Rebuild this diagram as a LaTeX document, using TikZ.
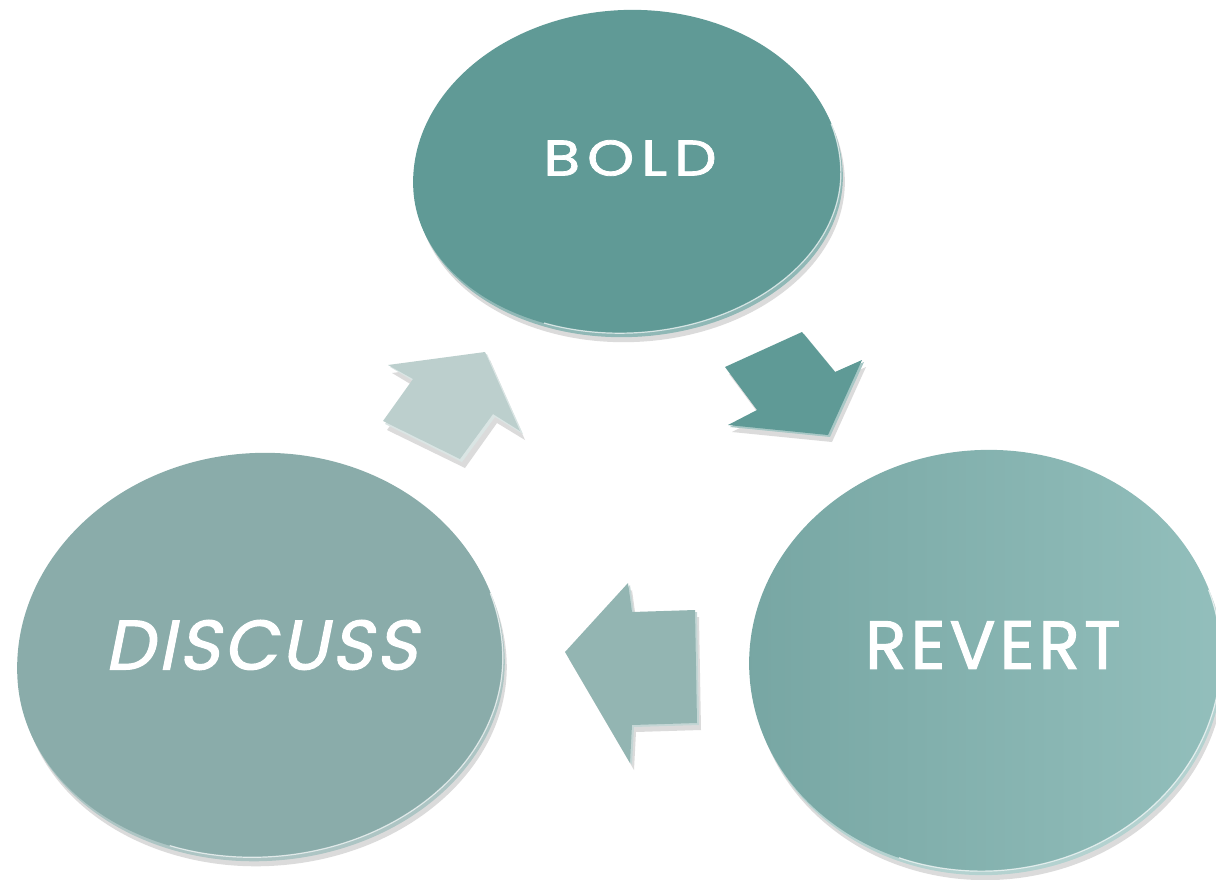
\documentclass[tikz,border=0pt]{standalone}
\usepackage{fontspec}
\setmainfont[FakeBold = 1.6]{Poppins}
\newfontfamily\wordfont[LetterSpace = 6, FakeBold = 1.6]{Poppins}
\newfontfamily\widefont[FakeStretch = 1.2, LetterSpace = 14, FakeBold = 1.6]{Poppins}
\newfontfamily\slantfont[FakeSlant = 0.2, LetterSpace = 5, FakeBold = 1.6]{Poppins}
\definecolor{boldface}{HTML}{609A96}
\definecolor{discface}{HTML}{8AACAA}
\definecolor{revertleft}{HTML}{77A6A3}
\definecolor{revertright}{HTML}{93BFBC}
\definecolor{upface}{HTML}{BCCFCD}
\definecolor{downface}{HTML}{5F9A96}
\definecolor{leftface}{HTML}{93B5B2}
\begin{document}
\begin{tikzpicture}[x = 1pt, y = -1pt,
    word/.style = {text = white, inner sep = 0pt},
    dropshade/.style = {black, opacity = .14},
    bevel/.style = {fill = #1!55!white}]
    \useasboundingbox (0,0) rectangle (1216,880);
    \foreach \cx/\cw/\rx/\ryt/\ryb/\rot/\lc/\rc in {
      627/178/214/168/155/3/boldface/boldface,
      260/664/243/211/193/4/discface/discface,
      985/660/236/210/211/4/revertleft/revertright} {
      \fill [dropshade, shift = {(\cx+4,\cw+9)}, rotate = \rot]
      (\rx pt,0pt) arc [start angle = 0, end angle = 180, x radius = \rx pt, y radius = \ryt pt]
      arc [start angle = 180, end angle = 360, x radius = \rx pt, y radius = \ryb pt] -- cycle;
      \fill [\rc!70!white, shift = {(\cx+2,\cw+4)}, rotate = \rot]
      (\rx pt,0pt) arc [start angle = 0, end angle = 180, x radius = \rx pt, y radius = \ryt pt]
      arc [start angle = 180, end angle = 360, x radius = \rx pt, y radius = \ryb pt] -- cycle;
      \shade [left color = \lc, right color = \rc,
      shift = {(\cx,\cw)}, rotate = \rot]
      (\rx pt,0pt) arc [start angle = 0, end angle = 180, x radius = \rx pt, y radius = \ryt pt]
      arc [start angle = 180, end angle = 360, x radius = \rx pt, y radius = \ryb pt] -- cycle;
      \draw [white, opacity = .7, line width = 1.2pt,
      shift = {(\cx,\cw)}, rotate = \rot]
      (0,0) ++(-115:\rx pt and \ryb pt)
      arc [start angle = -115, end angle = 0, x radius = \rx pt, y radius = \ryb pt]
      arc [start angle = 0, end angle = 15, x radius = \rx pt, y radius = \ryt pt];
    }
    \node [word, font = \widefont\fontsize{50}{60}\selectfont] (bold) at (630,158) {BOLD};
    \node [word, font = \slantfont\fontsize{70}{80}\selectfont] (discuss) at (261,645) {DISCUSS};
    \node [word, font = \wordfont\fontsize{68}{80}\selectfont] (revert) at (993,645) {REVERT};
    \fill [dropshade] (490,360) -- (525,440) -- (497,423) -- (465,468) -- (387,430)
    -- (417,388) -- (392,373) -- cycle;
    \fill [bevel = upface] (487,354) -- (523,434) -- (495,417) -- (462,462) -- (385,424)
    -- (415,382) -- (390,367) -- cycle;
    \fill [upface] (485,352) -- (520,431) -- (493,414) -- (460,459) -- (383,421)
    -- (413,379) -- (388,365) -- cycle;
    \fill [dropshade] (729,374) -- (806,339) -- (839,379) -- (866,367) -- (832,442)
    -- (732,432) -- (761,417) -- cycle;
    \fill [bevel = downface] (727,369) -- (804,334) -- (837,374) -- (864,362) -- (830,437)
    -- (730,427) -- (759,412) -- cycle;
    \fill [downface] (725,367) -- (802,332) -- (835,372) -- (862,360) -- (828,435)
    -- (728,425) -- (757,410) -- cycle;
    \fill [dropshade] (569,659) -- (632,590) -- (636,619) -- (699,617) -- (701,730)
    -- (636,732) -- (634,770) -- cycle;
    \fill [bevel = leftface] (567,654) -- (630,585) -- (634,614) -- (697,612) -- (699,725)
    -- (634,727) -- (632,765) -- cycle;
    \fill [leftface] (565,652) -- (628,583) -- (632,612) -- (695,610) -- (697,723)
    -- (632,725) -- (630,763) -- cycle;
  \end{tikzpicture}
\end{document}
